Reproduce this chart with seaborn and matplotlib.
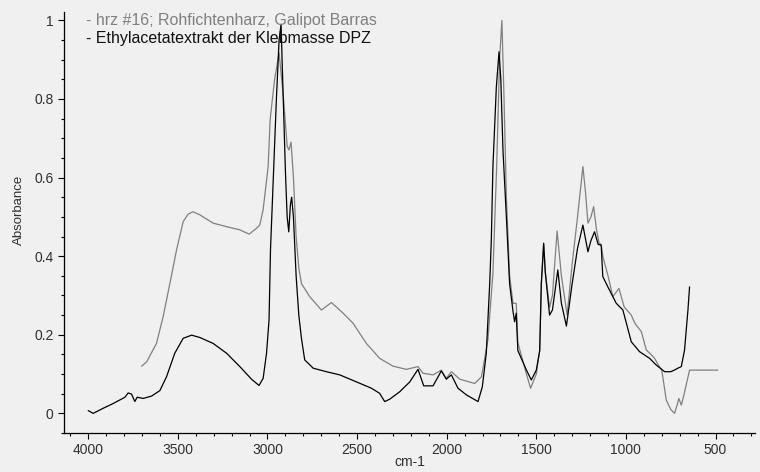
import matplotlib
matplotlib.use("Agg")
import matplotlib.pyplot as plt
from matplotlib.ticker import MultipleLocator, FuncFormatter
import seaborn as sns
import pandas as pd

# Spectrum 1: hrz #16 (grey trace)
resin_wn = [3702, 3674, 3619, 3582, 3544, 3507, 3470, 3442, 3415, 3377, 3303, 3228,
            3154, 3102, 3061, 3043, 3024, 2996, 2985, 2960, 2935, 2910, 2890, 2880,
            2868, 2855, 2840, 2825, 2810, 2764, 2699, 2643, 2578, 2522, 2448, 2374,
            2299, 2225, 2160, 2132, 2076, 2030, 2002, 1974, 1927, 1844, 1806, 1770,
            1742, 1721, 1705, 1692, 1680, 1667, 1649, 1630, 1612, 1603, 1555, 1532,
            1500, 1481, 1472, 1459, 1450, 1426, 1410, 1384, 1360, 1328, 1300, 1270,
            1240, 1225, 1212, 1195, 1180, 1165, 1150, 1138, 1129, 1100, 1073, 1039,
            1010, 970, 950, 914, 886, 860, 840, 815, 800, 775, 750, 729, 715, 705,
            691, 680, 670, 655, 645, 487]
resin_abs = [0.120, 0.131, 0.178, 0.246, 0.331, 0.416, 0.488, 0.507, 0.513, 0.505, 0.484, 0.475,
             0.467, 0.456, 0.471, 0.479, 0.518, 0.628, 0.747, 0.850, 0.917, 0.800, 0.680, 0.670,
             0.690, 0.600, 0.450, 0.370, 0.330, 0.297, 0.263, 0.282, 0.255, 0.229, 0.178, 0.140,
             0.120, 0.112, 0.119, 0.102, 0.098, 0.110, 0.089, 0.106, 0.087, 0.076, 0.093, 0.187,
             0.357, 0.630, 0.900, 1.000, 0.800, 0.550, 0.350, 0.280, 0.280, 0.180, 0.100, 0.064,
             0.100, 0.160, 0.330, 0.430, 0.360, 0.270, 0.300, 0.464, 0.350, 0.250, 0.380, 0.500,
             0.628, 0.560, 0.484, 0.500, 0.526, 0.470, 0.433, 0.430, 0.400, 0.350, 0.297, 0.318,
             0.271, 0.250, 0.229, 0.208, 0.161, 0.150, 0.140, 0.120, 0.110, 0.034, 0.010, 0.000,
             0.020, 0.038, 0.021, 0.040, 0.060, 0.090, 0.110, 0.110]

# Spectrum 2: ethyl acetate extract (black trace)
extract_wn = [4000, 3972, 3916, 3861, 3795, 3777, 3758, 3740, 3727, 3693, 3646, 3600,
              3563, 3517, 3470, 3423, 3377, 3303, 3228, 3154, 3089, 3047, 3024, 3005,
              2991, 2983, 2968, 2950, 2935, 2924, 2915, 2900, 2890, 2881, 2872, 2865,
              2855, 2840, 2825, 2810, 2792, 2745, 2671, 2597, 2503, 2420, 2374, 2346,
              2318, 2262, 2206, 2160, 2128, 2076, 2030, 2002, 1974, 1937, 1890, 1825,
              1801, 1779, 1760, 1751, 1742, 1723, 1708, 1698, 1686, 1667, 1649, 1630,
              1621, 1612, 1603, 1555, 1528, 1500, 1481, 1472, 1459, 1450, 1426, 1410,
              1380, 1360, 1332, 1300, 1270, 1240, 1212, 1195, 1175, 1155, 1138, 1129,
              1101, 1054, 1017, 970, 924, 868, 831, 784, 750, 730, 710, 691, 673, 654, 645]
extract_abs = [0.007, 0.000, 0.013, 0.025, 0.041, 0.052, 0.049, 0.030, 0.041, 0.038, 0.044, 0.058,
               0.093, 0.153, 0.191, 0.199, 0.193, 0.178, 0.153, 0.119, 0.087, 0.071, 0.089, 0.153,
               0.238, 0.416, 0.590, 0.800, 0.950, 0.990, 0.850, 0.620, 0.500, 0.462, 0.530, 0.550,
               0.500, 0.350, 0.250, 0.190, 0.136, 0.115, 0.106, 0.098, 0.080, 0.064, 0.051, 0.030,
               0.036, 0.055, 0.080, 0.112, 0.070, 0.070, 0.108, 0.087, 0.098, 0.064, 0.047, 0.030,
               0.068, 0.153, 0.330, 0.441, 0.628, 0.830, 0.920, 0.850, 0.670, 0.500, 0.330, 0.260,
               0.233, 0.255, 0.160, 0.110, 0.085, 0.110, 0.160, 0.330, 0.433, 0.360, 0.250, 0.263,
               0.365, 0.280, 0.222, 0.330, 0.420, 0.479, 0.411, 0.440, 0.462, 0.430, 0.428, 0.348,
               0.322, 0.280, 0.263, 0.182, 0.157, 0.140, 0.123, 0.106, 0.106, 0.110, 0.115, 0.119,
               0.161, 0.263, 0.322]

resin_label = "- hrz #16; Rohfichtenharz, Galipot Barras"
extract_label = "- Ethylacetatextrakt der Klebmasse DPZ"
x_title = "cm-1"
y_title = "Absorbance"

bg = "#f0f0f0"
grey = "#808080"
sns.set_theme(style="ticks")
plt.rcParams["font.family"] = ["Liberation Sans", "DejaVu Sans"]

fig = plt.figure(figsize=(7.6, 4.72), dpi=100, facecolor=bg)
ax = fig.add_axes([0.0842, 0.0826, 0.9092, 0.8926])
ax.set_facecolor(bg)

resin = pd.DataFrame({"wn": resin_wn, "A": resin_abs})
extract = pd.DataFrame({"wn": extract_wn, "A": extract_abs})
sns.lineplot(data=resin, x="wn", y="A", ax=ax, color=grey, lw=0.9,
             estimator=None, sort=False)
sns.lineplot(data=extract, x="wn", y="A", ax=ax, color="black", lw=0.9,
             estimator=None, sort=False)

ax.set_xlim(4135, 280)
ax.set_ylim(-0.05, 1.022)
ax.xaxis.set_major_locator(MultipleLocator(500))
ax.xaxis.set_minor_locator(MultipleLocator(100))
ax.yaxis.set_major_locator(MultipleLocator(0.2))
ax.yaxis.set_minor_locator(MultipleLocator(0.05))
ax.yaxis.set_major_formatter(FuncFormatter(lambda v, p: f"{v:g}"))
ax.xaxis.set_major_formatter(FuncFormatter(lambda v, p: f"{v:g}"))

for s in ("top", "right"):
    ax.spines[s].set_visible(False)
for s in ("left", "bottom"):
    ax.spines[s].set_color("black")
    ax.spines[s].set_linewidth(0.9)

ax.tick_params(which="major", direction="out", length=4.5, width=0.8,
               color="black", labelsize=10, labelcolor="#303030", pad=3)
ax.tick_params(which="minor", direction="out", length=2.5, width=0.8, color="black")

ax.set_xlabel(x_title, fontsize=10, color="#303030")
ax.set_ylabel(y_title, fontsize=9.5, color="#303030")
ax.xaxis.set_label_coords(0.5, -0.052)
ax.yaxis.set_label_coords(-0.057, 0.53)

fig.text(86 / 760, 1 - 21 / 472, resin_label, color=grey, fontsize=11.5, va="center", ha="left")
fig.text(86 / 760, 1 - 39 / 472, extract_label, color="#111111", fontsize=11.5, va="center", ha="left")

fig.savefig("out.png", dpi=100, facecolor=bg)
